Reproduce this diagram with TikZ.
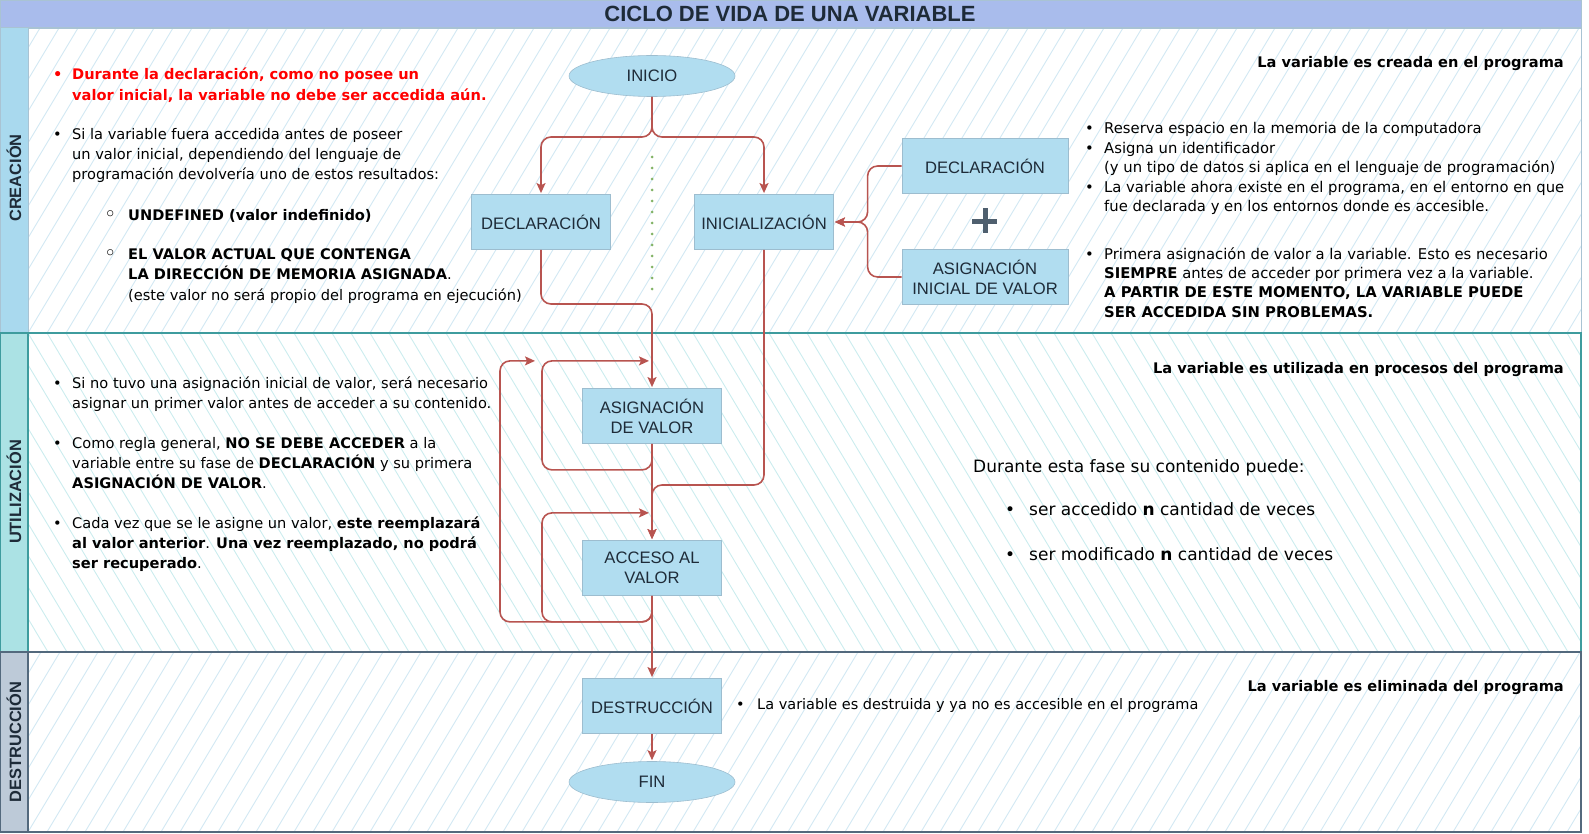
\documentclass[tikz,border=0pt]{standalone}
\usepackage{fontspec}
\setmainfont{Liberation Sans}
\newfontfamily\tahoma{DejaVu Sans}
\usepackage{tikz}
\usetikzlibrary{positioning, shapes.geometric, arrows.meta, calc}

\definecolor{barblue}{HTML}{A9BCEC}
\definecolor{sideA}{HTML}{A9D9EE}
\definecolor{sideB}{HTML}{ABE2E4}
\definecolor{sideC}{HTML}{BDCAD8}
\definecolor{lineA}{HTML}{A9C3D3}
\definecolor{lineB}{HTML}{3E9C9E}
\definecolor{lineC}{HTML}{53697D}
\definecolor{hatchA}{HTML}{D2E8F3}
\definecolor{hatchB}{HTML}{CBECEE}
\definecolor{boxfill}{HTML}{B1DDF0}
\definecolor{boxline}{HTML}{9DBDCF}
\definecolor{inkdark}{HTML}{1E2B38}
\definecolor{linkred}{HTML}{B85450}
\definecolor{dotgreen}{HTML}{82B366}
\definecolor{alertred}{HTML}{FF0000}
\definecolor{plusgrey}{HTML}{4F5F6E}

% bullet with lines aligned after it
\newcommand{\bul}[3][19pt]{\makebox[#1][l]{#2}\begin{tabular}[t]{@{}l@{}}#3\end{tabular}}
\newcommand{\ring}{\raisebox{-1pt}{\fontsize{21}{20}\selectfont ◦}}

\begin{document}
\begin{tikzpicture}[x=1pt, y=-1pt, shorten >=1pt, node distance=3cm, on grid, auto,
    >={Stealth[length=10pt,width=9pt,inset=2pt]},
    term/.style={ellipse, fill=boxfill, draw=boxline, line width=0.6pt, minimum width=166pt,
      minimum height=41pt, inner sep=0pt, text=inkdark, font=\fontsize{16.6}{20}\selectfont},
    box/.style={rectangle, fill=boxfill, draw=boxline, line width=0.8pt, minimum width=139pt,
      minimum height=55pt, inner sep=0pt, align=center, text=inkdark, font=\fontsize{16.6}{20}\selectfont},
    wbox/.style={box, minimum width=166pt},
    link/.style={->, draw=linkred, line width=1.6pt, rounded corners=10pt},
    ltxt/.style={anchor=base west, inner sep=0pt, text=black, font=\tahoma\fontsize{14.6}{20}\selectfont},
    rtxt/.style={anchor=base west, inner sep=0pt, text=black, font=\tahoma\fontsize{14.8}{19.4}\selectfont},
    bigtxt/.style={rtxt, font=\tahoma\fontsize{17}{22}\selectfont},
    hdr/.style={anchor=base east, inner sep=0pt, text=black, font=\tahoma\bfseries\fontsize{14.6}{20}\selectfont},
    sidelbl/.style={rotate=90, inner sep=0pt, text=inkdark, font=\bfseries\fontsize{16.4}{18}\selectfont}]

\useasboundingbox (0,0) rectangle (1589,834);

% hatching of the three bands
\begin{scope}
  \clip (28,28) rectangle (1581,333);
  \foreach \i in {-200,-181,...,1600}
    \draw[hatchA, line width=0.9pt] (\i,333) -- ++(183,-305);
\end{scope}
\begin{scope}
  \clip (28,333) rectangle (1581,652);
  \foreach \i in {-200,-181,...,1600}
    \draw[hatchB, line width=0.9pt] (\i,333) -- ++(191,319);
\end{scope}
\begin{scope}
  \clip (28,652) rectangle (1581,832);
  \foreach \i in {-200,-181,...,1600}
    \draw[hatchA, line width=0.9pt] (\i,832) -- ++(108,-180);
\end{scope}

% title and bands
\filldraw[fill=barblue, draw=lineA, line width=0.8pt] (0,0) rectangle (1581,28);
\node[inner sep=0pt, text=inkdark, font=\bfseries\fontsize{22}{22}\selectfont] (title) at (790,14) {CICLO DE VIDA DE UNA VARIABLE};

\draw[lineA, line width=1pt] (0,28) rectangle (1581,333);
\draw[lineB, line width=1.2pt] (0,333) rectangle (1581,652);
\draw[lineC, line width=1.2pt] (0,652) rectangle (1581,832);
\filldraw[fill=sideA, draw=lineA, line width=1pt] (0,28) rectangle (28,333);
\filldraw[fill=sideB, draw=lineB, line width=1.2pt] (0,333) rectangle (28,652);
\filldraw[fill=sideC, draw=lineC, line width=1.2pt] (0,652) rectangle (28,832);
\node[sidelbl] (creacion) at (14,178) {CREACIÓN};
\node[sidelbl] (utilizacion) at (14,492) {UTILIZACIÓN};
\node[sidelbl] (destruccion) at (14,742) {DESTRUCCIÓN};

% flow
\node[term] (inicio) at (652,76) {INICIO};
\node[box] (decl) [below left=146pt and 111pt of inicio] {DECLARACIÓN};
\node[box] (inic) [below right=146pt and 112pt of inicio] {INICIALIZACIÓN};
\node[wbox] (decl2) [above right=56pt and 221pt of inic] {DECLARACIÓN};
\node[wbox] (asigini) [below=111pt of decl2] {ASIGNACIÓN\\INICIAL DE VALOR};
\node[box] (asig) [below=340pt of inicio] {ASIGNACIÓN\\DE VALOR};
\node[box] (acc) [below=152pt of asig] {ACCESO AL\\VALOR};
\node[box] (dest) [below=138pt of acc] {DESTRUCCIÓN};
\node[term] (fin) [below=76pt of dest] {FIN};

\coordinate (split) at (652,137);
\coordinate (j1) at (652,304);
\coordinate (j2) at (652,485);
\coordinate (plus) at ($(decl2.south)!0.5!(asigini.north)$);

\draw[link] (inicio.south) -- (split) -| (decl.north);
\draw[link] (inicio.south) -- (split) -| (inic.north);
\draw[dotgreen, line width=3pt, line cap=round, dash pattern=on 0pt off 11pt] (652,157) -- (652,294);
\draw[link] (decl2.west) -- ++(-34,0) |- (inic.east);
\draw[link] (asigini.west) -- ++(-34,0) |- (inic.east);
\draw[plusgrey, line width=5pt] ($(plus)+(-13,0)$) -- ++(26,0);
\draw[plusgrey, line width=5pt] ($(plus)+(0,-13)$) -- ++(0,26);

\draw[link] (decl.south) |- (j1) -- (asig.north);
\draw[link] (inic.south) |- (j2) -- (acc.north);
\draw[link] (asig.south) -- (acc.north);
\draw[link] (asig.south) -- ++(0,26) -| ++(-110,-109) -- ++(108,0);
\draw[link] (acc.south) -- ++(0,26) -| ++(-110,-109) -- ++(108,0);
\draw[link] (acc.south) -- ++(0,26) -| ++(-152,-261) -- ++(36,0);
\draw[link] (acc.south) -- (dest.north);
\draw[link] (dest.south) -- (fin.north);

% texts of CREACION
\node[ltxt, text=alertred, font=\tahoma\bfseries\fontsize{14.6}{21}\selectfont] (noacc) at (53,80)
  {\bul{\textbullet}{Durante la declaración, como no posee un\\valor inicial, la variable no debe ser accedida aún.}};
\node[ltxt] (siacc) at (53,140)
  {\bul{\textbullet}{Si la variable fuera accedida antes de poseer\\un valor inicial, dependiendo del lenguaje de\\programación devolvería uno de estos resultados:}};
\node[ltxt] (undef) at (104,221) {\makebox[24pt][l]{\ring}\textbf{UNDEFINED (valor indefinido)}};
\node[ltxt] (valact) at (104,260)
  {\bul[24pt]{\ring}{\textbf{EL VALOR ACTUAL QUE CONTENGA}\\\textbf{LA DIRECCIÓN DE MEMORIA ASIGNADA}.\\(este valor no será propio del programa en ejecución)}};
\node[hdr] (hdrcrea) at (1564,68) {La variable es creada en el programa};
\node[rtxt] (declinfo) at (1085,134)
  {\begin{tabular}[t]{@{}p{19pt}@{}l@{}}
   \textbullet & Reserva espacio en la memoria de la computadora\\
   \textbullet & Asigna un identificador\\
   & (y un tipo de datos si aplica en el lenguaje de programación)\\
   \textbullet & La variable ahora existe en el programa, en el entorno en que\\
   & fue declarada y en los entornos donde es accesible.
   \end{tabular}};
\node[rtxt] (asiginfo) at (1085,259)
  {\begin{tabular}[t]{@{}p{19pt}@{}l@{}}
   \textbullet & Primera asignación de valor a la variable. Esto es necesario\\
   & \textbf{SIEMPRE} antes de acceder por primera vez a la variable.\\
   & \textbf{A PARTIR DE ESTE MOMENTO, LA VARIABLE PUEDE}\\
   & \textbf{SER ACCEDIDA SIN PROBLEMAS.}
   \end{tabular}};

% texts of UTILIZACION
\node[ltxt] (sinasig) at (53,388)
  {\bul{\textbullet}{Si no tuvo una asignación inicial de valor, será necesario\\asignar un primer valor antes de acceder a su contenido.}};
\node[ltxt] (regla) at (53,448)
  {\bul{\textbullet}{Como regla general, \textbf{NO SE DEBE ACCEDER} a la\\variable entre su fase de \textbf{DECLARACIÓN} y su primera\\\textbf{ASIGNACIÓN DE VALOR}.}};
\node[ltxt] (reempl) at (53,528)
  {\bul{\textbullet}{Cada vez que se le asigne un valor, \textbf{este reemplazará}\\\textbf{al valor anterior}. \textbf{Una vez reemplazado, no podrá}\\\textbf{ser recuperado}.}};
\node[hdr] (hdrutil) at (1564,373) {La variable es utilizada en procesos del programa};
\node[bigtxt] (fase) at (973,472) {Durante esta fase su contenido puede:};
\node[bigtxt] (opacc) at (1005,515) {\makebox[24pt][l]{\textbullet}ser accedido \textbf{n} cantidad de veces};
\node[bigtxt] (opmod) at (1005,560) {\makebox[24pt][l]{\textbullet}ser modificado \textbf{n} cantidad de veces};

% texts of DESTRUCCION
\node[rtxt, font=\tahoma\fontsize{14.5}{19.4}\selectfont] (destinfo) at (736,709) {\makebox[21pt][l]{\textbullet}La variable es destruida y ya no es accesible en el programa};
\node[hdr] (hdrdest) at (1564,691) {La variable es eliminada del programa};
\end{tikzpicture}
\end{document}
